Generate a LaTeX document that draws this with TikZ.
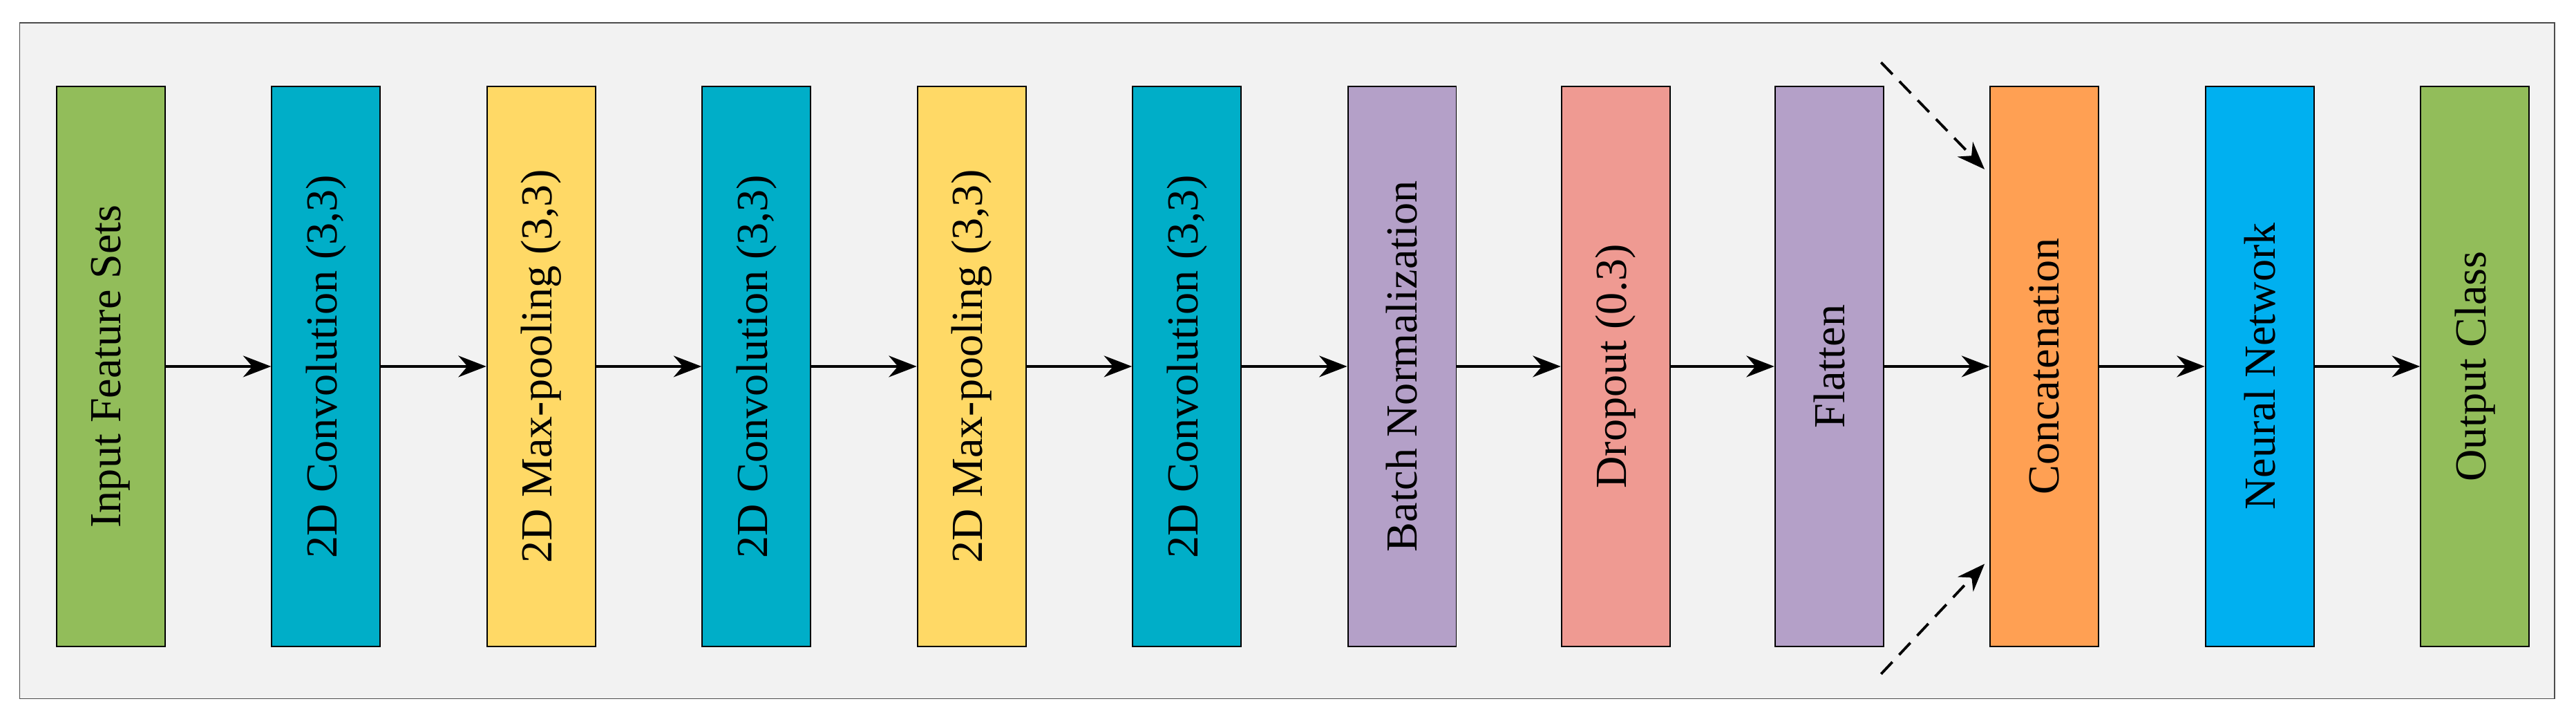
\documentclass[tikz,border=0pt]{standalone}
\usepackage{fontspec}
\setmainfont{Liberation Serif}
\usetikzlibrary{arrows.meta}
\definecolor{cgreen}{HTML}{92BD5A}
\definecolor{cteal}{HTML}{00AEC8}
\definecolor{cyellow}{HTML}{FFD966}
\definecolor{cpurple}{HTML}{B4A0C8}
\definecolor{csalmon}{HTML}{EF9A92}
\definecolor{corange}{HTML}{FFA053}
\definecolor{cblue}{HTML}{00B0F0}
\definecolor{cbg}{HTML}{F2F2F2}
\begin{document}
\begin{tikzpicture}[x=1pt,y=-1pt,
  blk/.style={draw=black,line width=0.8pt,minimum width=66pt,minimum height=341pt,anchor=north west,inner sep=0pt},
  lbl/.style={rotate=90,font=\fontsize{27}{30}\selectfont},
  arr/.style={-{Stealth[length=17pt,width=13pt]},line width=1.6pt},
  darr/.style={arr,dash pattern=on 10pt off 6pt}]
\useasboundingbox (0,0) rectangle (1568,436);
\draw[fill=cbg,draw=black!70,line width=0.8pt] (12,14) rectangle (1555,425);
\def\yt{52}
\foreach \n/\x/\c/\t in {b1/34/cgreen/Input Feature Sets,
  b2/165/cteal/2D Convolution (3{,}3),
  b3/296/cyellow/2D Max-pooling (3{,}3),
  b4/427/cteal/2D Convolution (3{,}3),
  b5/558/cyellow/2D Max-pooling (3{,}3),
  b6/689/cteal/2D Convolution (3{,}3),
  b7/820/cpurple/Batch Normalization,
  b8/950/csalmon/Dropout (0.3),
  b9/1080/cpurple/Flatten,
  b10/1211/corange/Concatenation,
  b11/1342/cblue/Neural Network,
  b12/1473/cgreen/Output Class}
  {\node[blk,fill=\c] (\n) at (\x,\yt) {};
   \node[lbl] at (\n.center) {\t};}
\foreach \a/\b in {b1/b2,b2/b3,b3/b4,b4/b5,b5/b6,b6/b7,b7/b8,b8/b9,b9/b10,b10/b11,b11/b12}
  \draw[arr] (\a.east) -- (\b.west);
\coordinate (d1) at (1145,38);
\coordinate (d2) at (1145,410);
\draw[darr] (d1) -- (1208,103);
\draw[darr] (d2) -- (1208,343);
\end{tikzpicture}
\end{document}
